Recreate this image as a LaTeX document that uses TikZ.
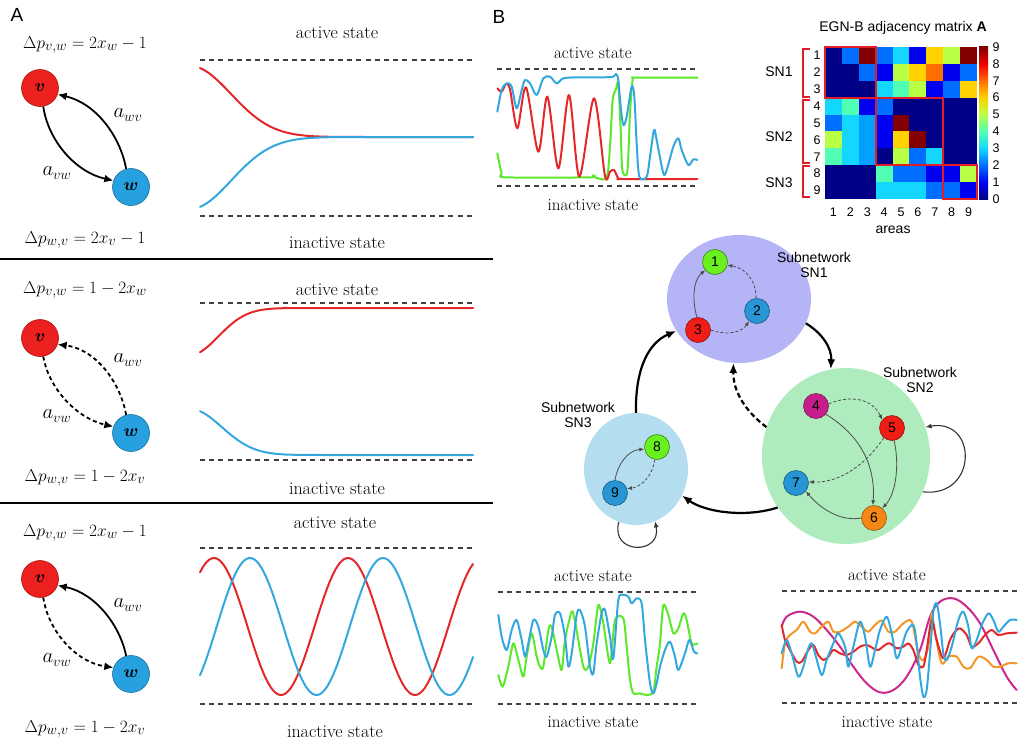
\documentclass[tikz,border=0pt]{standalone}
\usepackage{amsmath,bm}
\usepackage{fontspec}
\newfontfamily\arialf{Liberation Sans}
\usetikzlibrary{arrows.meta,shapes.geometric}
\definecolor{vred}{RGB}{236,32,30}
\definecolor{wblue}{RGB}{38,160,222}
\definecolor{cred}{RGB}{228,40,42}
\definecolor{cblue}{RGB}{52,168,222}
\definecolor{cgreen}{RGB}{92,232,42}
\definecolor{cmag}{RGB}{205,40,140}
\definecolor{corange}{RGB}{242,150,40}
\definecolor{ngreen}{RGB}{105,240,30}
\definecolor{nblue}{RGB}{40,150,212}
\definecolor{nred}{RGB}{240,28,22}
\definecolor{nmag}{RGB}{200,30,140}
\definecolor{norange}{RGB}{245,135,20}
\definecolor{sn1}{RGB}{180,180,246}
\definecolor{sn2}{RGB}{174,236,190}
\definecolor{sn3}{RGB}{180,222,240}
\definecolor{mred}{RGB}{225,30,40}
\definecolor{jet0}{RGB}{0,0,135}
\definecolor{jet1}{RGB}{0,0,240}
\definecolor{jet2}{RGB}{0,110,255}
\definecolor{jet25}{RGB}{0,160,255}
\definecolor{jet3}{RGB}{20,215,255}
\definecolor{jet4}{RGB}{80,255,180}
\definecolor{jet5}{RGB}{185,255,70}
\definecolor{jet6}{RGB}{255,210,0}
\definecolor{jet7}{RGB}{255,110,0}
\definecolor{jet8}{RGB}{240,0,0}
\definecolor{jet9}{RGB}{130,0,0}
\begin{document}
\begin{tikzpicture}[x=1pt,y=-1pt,
  kser/.style={font=\fontsize{18}{20}\selectfont},
  kserb/.style={font=\fontsize{17}{19}\selectfont},
  kformula/.style={font=\fontsize{19}{22}\selectfont},
  kalbl/.style={font=\fontsize{20}{22}\selectfont},
  kvnode/.style={circle, minimum size=37pt, inner sep=0pt, fill=vred, draw=vred!70!black, line width=0.6pt, font=\fontsize{18}{19}\selectfont},
  kwnode/.style={kvnode, fill=wblue, draw=wblue!70!black},
  kaarr/.style={line width=1.8pt, -{Latex[length=9pt,width=8pt]}},
  kadash/.style={kaarr, dash pattern=on 4pt off 3pt},
  kbound/.style={line width=1.1pt, dash pattern=on 5pt off 4.2pt, black!75},
  kts/.style={line width=2pt, line join=round, line cap=round},
  ksans/.style={font=\arialf\fontsize{14}{15}\selectfont, align=center},
  knum/.style={font=\arialf\fontsize{12.5}{13}\selectfont},
  ksub/.style={ellipse, inner sep=0pt},
  kinode/.style={circle, minimum size=25pt, inner sep=0pt, line width=0.6pt, font=\arialf\fontsize{14}{15}\selectfont},
  kiarr/.style={line width=0.8pt, draw=black!70, -{Latex[length=5pt,width=4pt]}},
  kidash/.style={kiarr, dash pattern=on 3pt off 2pt},
  kbarr/.style={line width=2.2pt, -{Latex[length=10pt,width=8pt]}},
  kbdash/.style={kbarr, dash pattern=on 5pt off 3pt},
  kloop/.style={line width=1.1pt, black!80, -{Latex[length=6pt,width=5pt]}},
  kbr/.style={draw=mred, line width=2pt},
]
\useasboundingbox (0,0) rectangle (1024,744);

% ---------------- Panel A ----------------
\node[font=\arialf\fontsize{19}{20}\selectfont] (labA) at (17,15) {A};
\node[font=\arialf\fontsize{19}{20}\selectfont] (labB) at (499,17) {B};

\draw[line width=1.3pt] (0,259) -- (493,259);
\draw[line width=1.3pt] (0,503) -- (493,503);

% Row 1
\node[kformula] (f1t) at (85,45) {$\Delta p_{v,w} = 2x_w - 1$};
\node[kvnode] (v1) at (40,88) {$\bm{v}$};
\node[kwnode] (w1) at (131,187) {$\bm{w}$};
\draw[kaarr] (v1.280) .. controls (48,140) and (75,172) .. (w1.160);
\draw[kaarr] (w1.105) .. controls (120,135) and (95,103) .. (v1.-20);
\node[kalbl] (l1a) at (128,115) {$a_{wv}$};
\node[kalbl] (l1b) at (57,173) {$a_{vw}$};
\node[kformula] (f1b) at (85,240) {$\Delta p_{w,v} = 2x_v - 1$};

\node[kser] (act1) at (337,33) {active state};
\node[kser] (ina1) at (337,243) {inactive state};
\draw[kbound] (200,60) -- (473,60);
\draw[kbound] (200,216) -- (473,216);
\draw[kts, cred] plot[domain=200:473, samples=90] (\x, {137-71*exp(-(((\x-190)/58)^2))});
\draw[kts, cblue] plot[domain=200:473, samples=90] (\x, {137+72*exp(-(((\x-190)/58)^2))});

% Row 2
\node[kformula] (f2t) at (85,290) {$\Delta p_{v,w} = 1 - 2x_w$};
\node[kvnode] (v2) at (40,338) {$\bm{v}$};
\node[kwnode] (w2) at (131,433) {$\bm{w}$};
\draw[kadash] (v2.280) .. controls (48,386) and (75,418) .. (w2.160);
\draw[kadash] (w2.105) .. controls (120,381) and (95,349) .. (v2.-20);
\node[kalbl] (l2a) at (128,360) {$a_{wv}$};
\node[kalbl] (l2b) at (57,416) {$a_{vw}$};
\node[kformula] (f2b) at (85,478) {$\Delta p_{w,v} = 1 - 2x_v$};

\node[kser] (act2) at (337,290) {active state};
\node[kser] (ina2) at (337,489) {inactive state};
\draw[kbound] (200,303) -- (473,303);
\draw[kbound] (200,460) -- (473,460);
\draw[kts, cred] plot[domain=200:473, samples=90] (\x, {308+47*exp(-(((\x-190)/40)^2))});
\draw[kts, cblue] plot[domain=200:473, samples=90] (\x, {455-46*exp(-(((\x-190)/45)^2))});

% Row 3
\node[kformula] (f3t) at (85,533) {$\Delta p_{v,w} = 2x_w - 1$};
\node[kvnode] (v3) at (40,579) {$\bm{v}$};
\node[kwnode] (w3) at (131,674) {$\bm{w}$};
\draw[kadash] (v3.280) .. controls (48,630) and (75,662) .. (w3.160);
\draw[kaarr] (w3.105) .. controls (120,625) and (95,593) .. (v3.-20);
\node[kalbl] (l3a) at (128,605) {$a_{wv}$};
\node[kalbl] (l3b) at (57,660) {$a_{vw}$};
\node[kformula] (f3b) at (85,729) {$\Delta p_{w,v} = 1 - 2x_v$};

\node[kser] (act3) at (335,523) {active state};
\node[kser] (ina3) at (335,732) {inactive state};
\draw[kbound] (200,548) -- (473,548);
\draw[kbound] (200,704) -- (473,704);
\draw[kts, cred] plot[domain=200:473, samples=130] (\x, {626.5-68.5*cos(2.6866*(\x-214))});
\draw[kts, cblue] plot[domain=200:473, samples=130] (\x, {626.5-68.5*cos(2.7068*(\x-250))});

% ---------------- Panel B: top-left time series ----------------
\node[kserb] (act4) at (593,53) {active state};
\node[kserb] (ina4) at (593,205) {inactive state};
\draw[kbound] (497,69) -- (697,69);
\draw[kbound] (497,186) -- (697,186);
\begin{scope}[shift={(490,30)}, scale=1/3]
\draw[kts, cgreen] plot[smooth, tension=0.45] coordinates {(22,370)(35,430)(48,442)(300,442)(308,436)(318,443)(350,443)(360,350)(368,210)(378,178)(385,160)(392,300)(397,420)(412,425)(420,250)(428,150)(440,143)(622,143)};
\draw[kts, cred] plot[smooth, tension=0.5] coordinates {(22,175)(35,185)(48,162)(60,178)(82,295)(108,172)(145,365)(172,200)(205,415)(237,195)(268,440)(312,205)(345,438)(360,425)(372,420)(385,445)(400,447)(622,447)};
\draw[kts, cblue] plot[smooth, tension=0.5] coordinates {(22,245)(35,180)(50,160)(65,170)(80,235)(95,180)(105,150)(120,160)(140,195)(160,145)(180,140)(200,160)(220,145)(260,142)(300,142)(340,142)(370,140)(378,132)(385,150)(392,230)(400,285)(410,260)(425,170)(433,200)(440,340)(448,440)(470,440)(480,380)(492,300)(500,330)(520,430)(530,420)(550,350)(565,325)(575,360)(595,405)(610,388)(622,390)};
\end{scope}

% ---------------- Adjacency matrix ----------------
\node[ksans] (mt) at (903,28) {EGN-B adjacency matrix \textbf{A}};
\foreach [count=\i] \row in {{0,2,9,2,3,1,6,5,9},{0,0,2,1,5,6,7,1,2},{0,0,0,3,4,5,1,2,6},{3,4,1,2,0,0,0,0,0},{2,3,25,1,9,0,0,0,0},{5,3,25,1,6,9,0,0,0},{4,3,25,0,5,2,3,0,0},{0,0,0,4,2,2,1,1,5},{0,0,0,3,3,3,2,2,1}}{
  \foreach [count=\j] \v in \row {
    \fill[jet\v] ({825+(\j-1)*16.89},{47+(\i-1)*16.89}) rectangle ++(17.2,17.2);
  }
}
\draw[kbr] (825,47) rectangle ++(50.67,50.67);
\draw[kbr] (875.67,97.67) rectangle ++(67.56,67.56);
\draw[kbr] (943.23,165.23) rectangle ++(33.78,33.78);
\foreach \k [evaluate=\k as \kn using int(\k+1)] in {0,...,8}{
  \shade[bottom color=jet\k, top color=jet\kn] (979,{199-\k*16.89+0.3}) rectangle (988,{199-(\k+1)*16.89});
}
\foreach \k in {0,...,9}{
  \node[knum, anchor=west] (cb\k) at (989,{199-\k*16.89}) {\k};
}
\foreach \i in {1,...,9}{
  \node[knum] (rl\i) at (817,{47+(\i-0.5)*16.89}) {\i};
  \node[knum] (cl\i) at ({825+(\i-0.5)*16.89},212) {\i};
}
\node[ksans] (areas) at (893,230) {areas};
\node[ksans] (snl1) at (779,72) {SN1};
\node[ksans] (snl2) at (779,137) {SN2};
\node[ksans] (snl3) at (779,183) {SN3};
\draw[kbr] (810,49) -- (803,49) -- (803,97) -- (810,97);
\draw[kbr] (810,100) -- (803,100) -- (803,163) -- (810,163);
\draw[kbr] (810,166) -- (803,166) -- (803,197) -- (810,197);

% ---------------- Network ----------------
\node[ksub, fill=sn1, minimum width=144pt, minimum height=128pt] (S1) at (739,299) {};
\node[ksub, fill=sn2, minimum width=168pt, minimum height=176pt] (S2) at (846,456) {};
\node[ksub, fill=sn3, minimum width=104pt, minimum height=112pt] (S3) at (636,469) {};

\node[ksans] (t1) at (814,265) {Subnetwork\\SN1};
\node[ksans] (t2) at (920,380) {Subnetwork\\SN2};
\node[ksans] (t3) at (578,415) {Subnetwork\\SN3};

\node[kinode, fill=ngreen, draw=ngreen!55!black] (n1) at (715,262) {1};
\node[kinode, fill=nblue, draw=nblue!60!black] (n2) at (757,311) {2};
\node[kinode, fill=nred, draw=nred!60!black] (n3) at (698,330) {3};
\node[kinode, fill=nmag, draw=nmag!60!black] (n4) at (816,406) {4};
\node[kinode, fill=nred, draw=nred!60!black] (n5) at (892,428) {5};
\node[kinode, fill=norange, draw=norange!60!black] (n6) at (874,518) {6};
\node[kinode, fill=nblue, draw=nblue!60!black] (n7) at (796,483) {7};
\node[kinode, fill=ngreen, draw=ngreen!55!black] (n8) at (657,447) {8};
\node[kinode, fill=nblue, draw=nblue!60!black] (n9) at (615,493) {9};

\draw[kiarr] (n3.95) .. controls (692,300) and (693,280) .. (n1.220);
\draw[kidash] (n2.95) .. controls (757,285) and (748,268) .. (n1.-15);
\draw[kidash] (n3.0) .. controls (728,336) and (742,332) .. (n2.232);

\draw[kidash] (n4.10) .. controls (850,395) and (872,398) .. (n5.140);
\draw[kiarr] (n4.-40) .. controls (855,432) and (876,460) .. (n6.95);
\draw[kiarr] (n5.-80) .. controls (900,468) and (895,495) .. (n6.50);
\draw[kidash] (n5.-130) .. controls (862,470) and (835,483) .. (n7.5);
\draw[kiarr] (n6.180) .. controls (840,522) and (820,508) .. (n7.-40);

\draw[kiarr] (n9.90) .. controls (617,465) and (628,450) .. (n8.190);
\draw[kidash] (n8.-100) .. controls (652,478) and (640,487) .. (n9.20);

\draw[kbarr] (S3.north) .. controls (635,370) and (648,343) .. (S1.207);
\draw[kbarr] (S1.-20) .. controls (822,333) and (832,348) .. (S2.100);
\draw[kbdash] (S2.160) .. controls (750,415) and (733,395) .. (S1.265);
\draw[kbarr] (S2.217) .. controls (745,518) and (705,512) .. (S3.-30);
\draw[kloop] (S2.-25) .. controls (978,498) and (978,418) .. (S2.20);
\draw[kloop] (S3.252) .. controls (610,555) and (662,555) .. (S3.290);

% ---------------- Bottom-left time series ----------------
\node[kserb] (act5) at (593,576) {active state};
\node[kserb] (ina5) at (593,722) {inactive state};
\draw[kbound] (498,592) -- (697,592);
\draw[kbound] (498,704) -- (697,704);
\begin{scope}[shift={(490,560)}, scale=1/3]
\draw[kts, cgreen] plot[smooth, tension=0.45] coordinates {(25,345)(38,380)(55,320)(70,250)(85,300)(100,350)(110,290)(125,220)(140,290)(150,320)(160,320)(175,210)(185,200)(200,270)(215,330)(225,240)(245,155)(255,185)(280,320)(295,320)(310,250)(325,135)(340,190)(360,310)(375,180)(400,175)(410,260)(420,360)(430,400)(450,400)(470,405)(490,395)(500,320)(510,250)(520,135)(535,165)(550,220)(565,205)(580,160)(590,180)(605,250)(622,250)};
\draw[kts, cblue] plot[smooth, tension=0.5] coordinates {(25,165)(35,230)(50,270)(65,210)(80,180)(95,240)(105,290)(115,250)(130,180)(145,200)(160,270)(170,290)(185,230)(195,165)(210,160)(225,230)(235,320)(245,280)(260,165)(270,150)(285,200)(300,320)(310,340)(320,250)(335,160)(345,150)(360,230)(370,295)(385,120)(400,105)(415,110)(425,130)(440,115)(455,130)(465,240)(480,370)(490,400)(500,370)(510,320)(525,270)(540,245)(555,290)(565,330)(585,280)(598,240)(612,275)(622,280)};
\end{scope}

% ---------------- Bottom-right time series ----------------
\node[kserb] (act6) at (887,575) {active state};
\node[kserb] (ina6) at (887,722) {inactive state};
\draw[kbound] (782,591) -- (1017,591);
\draw[kbound] (782,703) -- (1017,703);
\begin{scope}[shift={(760,560)}, scale=1/3]
\draw[kts, cmag] plot[smooth, tension=0.6] coordinates {(65,200)(80,170)(120,155)(160,170)(200,210)(240,260)(280,320)(320,370)(360,397)(400,390)(440,350)(480,270)(510,170)(540,125)(580,115)(620,140)(660,190)(700,270)(740,350)(770,390)};
\draw[kts, corange] plot[smooth, tension=0.5] coordinates {(65,325)(75,250)(90,225)(110,210)(130,185)(150,215)(165,220)(185,200)(205,185)(220,215)(240,215)(265,200)(285,185)(305,200)(325,215)(345,195)(365,182)(385,215)(405,215)(430,190)(455,185)(475,280)(490,300)(505,260)(515,160)(525,220)(545,310)(565,290)(590,290)(610,320)(630,325)(655,290)(680,300)(700,320)(720,320)(745,310)(770,310)};
\draw[kts, cred] plot[smooth, tension=0.5] coordinates {(65,195)(75,240)(90,270)(110,305)(125,305)(145,270)(160,255)(175,285)(190,300)(205,290)(220,270)(240,280)(260,285)(280,275)(300,260)(320,255)(340,265)(355,270)(375,255)(390,250)(410,265)(430,260)(445,250)(460,270)(475,315)(490,320)(500,270)(515,180)(530,240)(550,295)(570,240)(585,215)(600,205)(620,225)(635,260)(655,250)(675,225)(695,210)(715,225)(740,220)(770,218)};
\draw[kts, cblue] plot[smooth, tension=0.5] coordinates {(65,280)(80,240)(95,280)(115,350)(130,320)(145,265)(155,250)(165,280)(185,345)(200,300)(220,250)(235,220)(255,260)(265,320)(280,260)(300,185)(315,230)(330,320)(345,270)(360,210)(380,170)(395,220)(410,295)(425,260)(440,215)(460,195)(470,250)(480,350)(490,410)(500,390)(510,280)(520,155)(530,130)(540,190)(550,280)(560,300)(575,260)(595,180)(610,155)(625,200)(635,265)(650,240)(665,195)(685,160)(700,180)(715,215)(730,200)(750,180)(770,180)};
\end{scope}
\end{tikzpicture}
\end{document}
